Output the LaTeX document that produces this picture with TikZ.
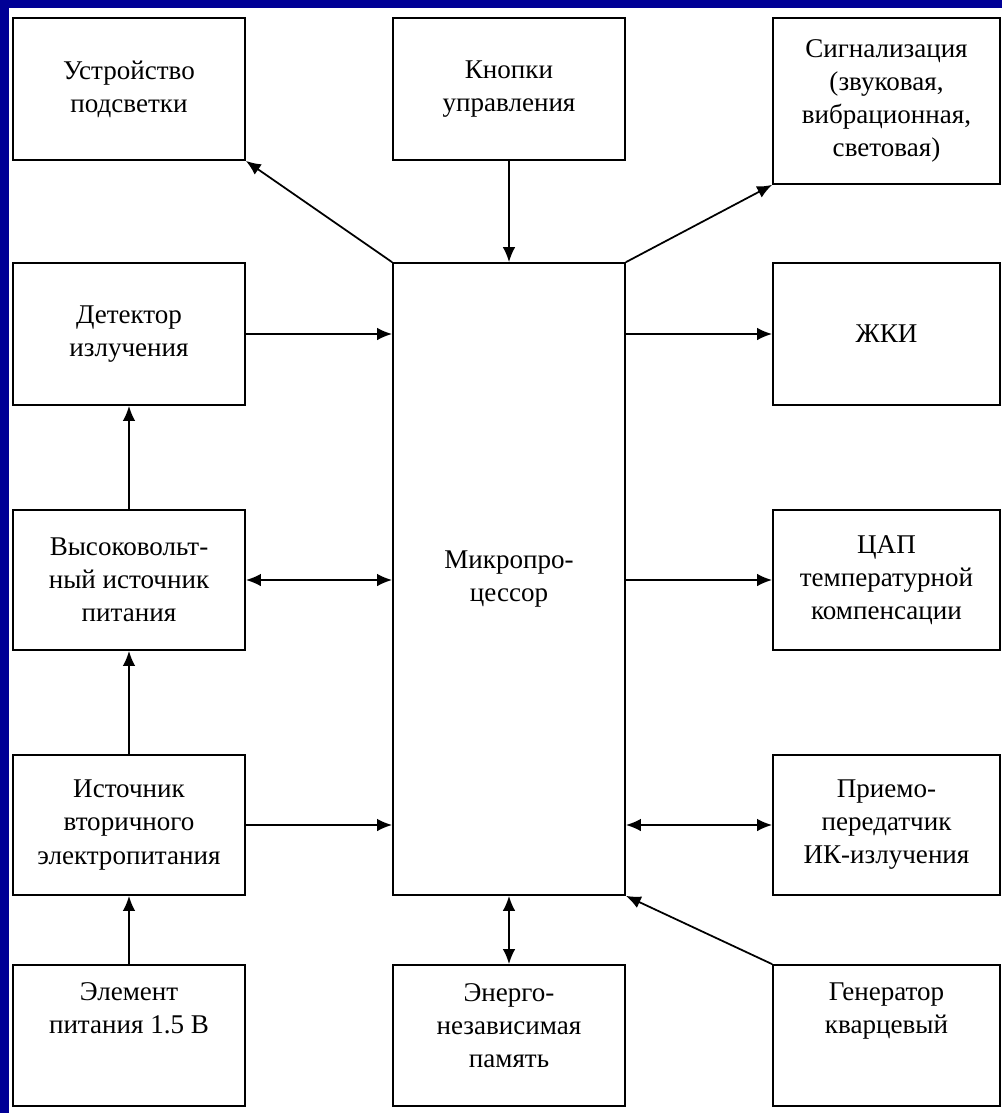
\documentclass[tikz,border=0pt]{standalone}
\usepackage{fontspec}
\setmainfont{Liberation Serif}
\usetikzlibrary{arrows,arrows.meta,calc}
\usetikzlibrary{positioning}
\definecolor{navy}{RGB}{0,0,150}
\begin{document}
\begin{tikzpicture}[x=0.02cm,y=-0.02cm,font=\fontsize{15.4pt}{18.8pt}\selectfont]

%BACKGROUND
\useasboundingbox (0,0) rectangle (1002,1113);
\fill[white] (0,0) rectangle (1002,1113);
\fill[navy] (0,0) rectangle (9,1113);
\fill[navy] (0,0) rectangle (1002,8);

%%%%%%%%%%%%%%%%%%%%%%%%%%%%%%%%%%%%%%%%%%%%%%%%%%%%%%%%%%%%%%
%blocks
\tikzstyle{block}=[draw,line width=1pt,minimum width=4.64cm,minimum height=2.84cm,inner sep=0pt,align=center]
\tikzstyle{block2}=[draw,line width=1pt,minimum width=4.54cm,minimum height=2.84cm,inner sep=0pt,align=center]
\tikzstyle{link}=[line width=1pt,>={Latex[length=3mm,width=2.5mm]}]

%left
\node[block] (light) at (129,89) {Устройство\\подсветки};
\node[block] (detector) at (129,334) {Детектор\\излучения};
\node[block,minimum height=2.8cm] (hv) at (129,580) {Высоковольт-\\ный источник\\питания};
\node[block,minimum height=2.8cm] (supply) at (129,825) {Источник\\вторичного\\электропитания};
\node[block,minimum height=2.82cm,text depth=1.1cm] (cell) at (129,1035.5) {Элемент\\питания 1.5 В};

%middle
\node[block] (keys) at (509,89) {Кнопки\\управления};
\node[block,minimum height=12.64cm] (cpu) at (509,579) {Микропро-\\цессор};
\node[block,minimum height=2.82cm,text depth=0.4cm] (memory) at (509,1035.5) {Энерго-\\независимая\\память};

%right
\node[block2,minimum height=3.32cm] (alarm) at (886.5,101) {Сигнализация\\(звуковая,\\вибрационная,\\световая)};
\node[block2] (lcd) at (886.5,334) {ЖКИ};
\node[block2,minimum height=2.8cm] (dac) at (886.5,580) {ЦАП\\температурной\\компенсации};
\node[block2,minimum height=2.8cm] (ir) at (886.5,825) {Приемо-\\передатчик\\ИК-излучения};
\node[block2,minimum height=2.82cm,text depth=1.1cm] (quartz) at (886.5,1035.5) {Генератор\\кварцевый};

%%%%%%%%%%%%%%%%%%%%%%%%%%%%%%%%%%%%%%%%%%%%%%%%%%%%%%%%%%%%%%
%ARROWS

%cpu->out
\draw[->,link] (cpu.north west) -- (light.south east);
\draw[->,link] (cpu.north east) -- (alarm.south west);
\draw[->,link] (cpu.east |- lcd.west) -- (lcd.west);
\draw[->,link] (cpu.east |- dac.west) -- (dac.west);
%in->cpu
\draw[->,link] (keys.south) -- (cpu.north);
\draw[->,link] (detector.east) -- (cpu.west |- detector.east);
\draw[->,link] (supply.east) -- (cpu.west |- supply.east);
\draw[->,link] (quartz.north west) -- (cpu.south east);
%both
\draw[<->,link] (hv.east) -- (cpu.west |- hv.east);
\draw[<->,link] (cpu.east |- ir.west) -- (ir.west);
\draw[<->,link] (cpu.south) -- (memory.north);
%power
\draw[->,link] (cell.north) -- (supply.south);
\draw[->,link] (supply.north) -- (hv.south);
\draw[->,link] (hv.north) -- (detector.south);
\end{tikzpicture}
\end{document}
